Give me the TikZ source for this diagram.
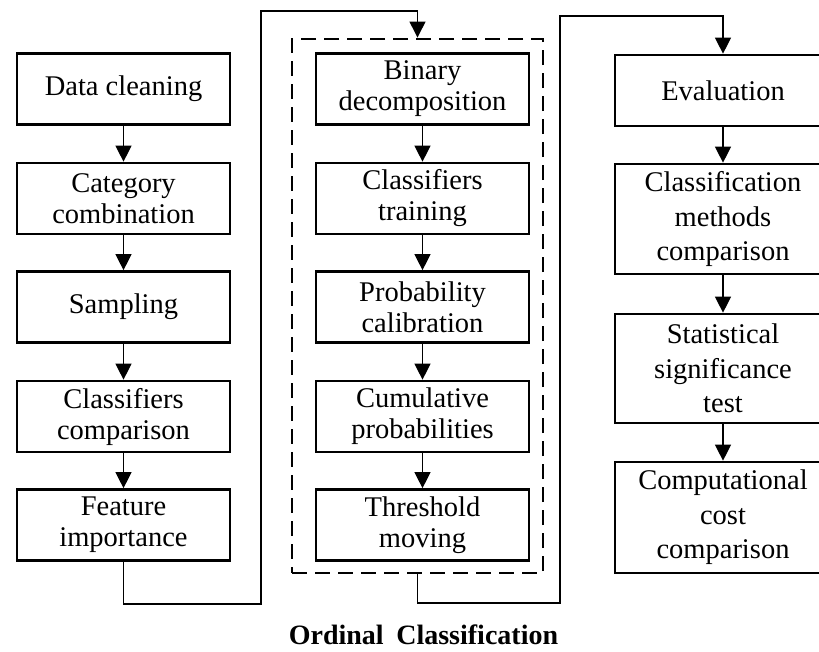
\documentclass[tikz,border=0pt]{standalone}
\usepackage{fontspec}
\setmainfont{Liberation Serif}
\usetikzlibrary{arrows.meta}
\begin{document}
\begin{tikzpicture}[x=1pt,y=-1pt,
  box/.style={draw=black,line width=2.7pt,inner sep=0pt,align=center,
    minimum width=213pt,minimum height=71pt,font=\fontsize{28.5}{31}\selectfont},
  rbox/.style={box,minimum width=216pt,font=\fontsize{28.5}{34.5}\selectfont},
  flow/.style={line width=1.3pt,-{Triangle[length=16pt,width=16pt]}},
  groupbox/.style={draw=black,line width=2.9pt,dash pattern=on 15pt off 8pt,inner sep=0pt,
    minimum width=251pt,minimum height=534pt}]
\clip (0,0) rectangle (819,651);
\fill[white] (0,0) rectangle (819,651);
% left column
\node[box] (a1) at (123.5,89) {Data cleaning};
\node[box] (a2) at (123.5,198.5) {Category\\combination};
\node[box] (a3) at (123.5,307) {Sampling};
\node[box] (a4) at (123.5,416.5) {Classifiers\\comparison};
\node[box] (a5) at (123.5,525) {Feature\\importance};
% middle column
\node[groupbox] (oc) at (417.5,306) {};
\node[box] (b1) at (422.5,89) {Binary\\decomposition};
\node[box] (b2) at (422.5,198.5) {Classifiers\\training};
\node[box] (b3) at (422.5,307) {Probability\\calibration};
\node[box] (b4) at (422.5,416.5) {Cumulative\\probabilities};
\node[box] (b5) at (422.5,525) {Threshold\\moving};
% right column
\node[rbox] (c1) at (723,90.5) {Evaluation};
\node[rbox,minimum height=110pt] (c2) at (723,219) {Classification\\methods\\comparison};
\node[rbox,minimum height=109pt] (c3) at (723,368.5) {Statistical\\significance\\test};
\node[rbox,minimum height=111pt] (c4) at (723,517.5) {Computational\\cost\\comparison};
% title
\node[font=\bfseries\fontsize{28}{31}\selectfont,inner sep=0pt] (title) at (423.5,635) {Ordinal\hspace{0.45em}Classification};
% arrows within columns
\draw[flow] (a1) -- (a2);
\draw[flow] (a2) -- (a3);
\draw[flow] (a3) -- (a4);
\draw[flow] (a4) -- (a5);
\draw[flow] (b1) -- (b2);
\draw[flow] (b2) -- (b3);
\draw[flow] (b3) -- (b4);
\draw[flow] (b4) -- (b5);
\draw[flow] (c1) -- (c2);
\draw[flow] (c2) -- (c3);
\draw[flow] (c3) -- (c4);
% routed connectors
\coordinate (p1) at (261,604);
\coordinate (p2) at (261,11);
\coordinate (q1) at (560,603);
\coordinate (q2) at (560,16);
\draw[flow] (a5.south) |- (p1) -- (p2) -| (oc.north);
\draw[flow] (oc.south) |- (q1) -- (q2) -| (c1.north);
\end{tikzpicture}
\end{document}
